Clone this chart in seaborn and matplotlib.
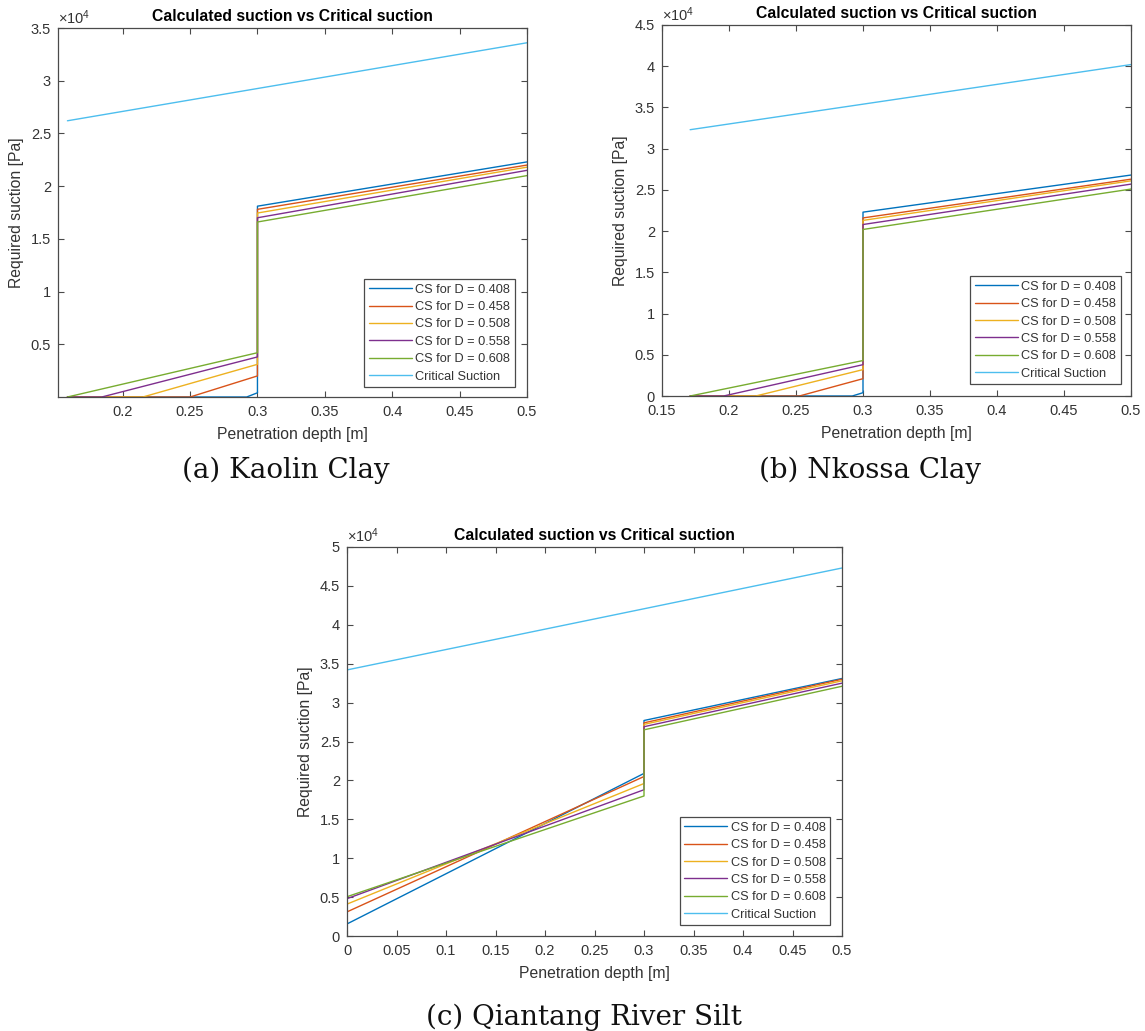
import matplotlib
matplotlib.use("Agg")
import matplotlib.pyplot as plt
import seaborn as sns
import pandas as pd
from matplotlib.ticker import FuncFormatter, FixedLocator

# ---------------- data (suction in units of 1e4 Pa) ----------------
SERIES = ["CS for D = 0.408", "CS for D = 0.458", "CS for D = 0.508",
          "CS for D = 0.558", "CS for D = 0.608", "Critical Suction"]
COLORS = ["#0072BD", "#D95319", "#EDB120", "#7E2F8E", "#77AC30", "#4DBEEE"]

# (a) Kaolin Clay
a_depth = [
    [0.159, 0.292, 0.3, 0.3, 0.5],
    [0.159, 0.250, 0.3, 0.3, 0.5],
    [0.159, 0.215, 0.3, 0.3, 0.5],
    [0.159, 0.1845, 0.3, 0.3, 0.5],
    [0.159, 0.3, 0.3, 0.5],
    [0.159, 0.5],
]
a_suction = [
    [0, 0, 0.04, 1.81, 2.23],
    [0, 0, 0.20, 1.78, 2.20],
    [0, 0, 0.31, 1.745, 2.18],
    [0, 0, 0.38, 1.70, 2.15],
    [0, 0.42, 1.66, 2.10],
    [2.62, 3.36],
]

# (b) Nkossa Clay
b_depth = [
    [0.171, 0.292, 0.3, 0.3, 0.5],
    [0.171, 0.2525, 0.3, 0.3, 0.5],
    [0.171, 0.220, 0.3, 0.3, 0.5],
    [0.171, 0.196, 0.3, 0.3, 0.5],
    [0.171, 0.3, 0.3, 0.5],
    [0.171, 0.5],
]
b_suction = [
    [0, 0, 0.04, 2.23, 2.68],
    [0, 0, 0.21, 2.16, 2.63],
    [0, 0, 0.32, 2.13, 2.61],
    [0, 0, 0.38, 2.08, 2.57],
    [0, 0.43, 2.02, 2.51],
    [3.23, 4.02],
]

# (c) Qiantang River Silt
c_depth = [
    [0, 0.3, 0.3, 0.5],
    [0, 0.3, 0.3, 0.5],
    [0, 0.3, 0.3, 0.5],
    [0, 0.3, 0.3, 0.5],
    [0, 0.3, 0.3, 0.5],
    [0, 0.5],
]
c_suction = [
    [0.155, 2.09, 2.77, 3.31],
    [0.31, 2.05, 2.74, 3.30],
    [0.41, 1.96, 2.72, 3.28],
    [0.48, 1.88, 2.69, 3.25],
    [0.505, 1.80, 2.65, 3.21],
    [3.42, 4.73],
]

a_xticks = [0.2, 0.25, 0.3, 0.35, 0.4, 0.45, 0.5]
a_yticks = [0.5, 1, 1.5, 2, 2.5, 3, 3.5]
b_xticks = [0.15, 0.2, 0.25, 0.3, 0.35, 0.4, 0.45, 0.5]
b_yticks = [0, 0.5, 1, 1.5, 2, 2.5, 3, 3.5, 4, 4.5]
c_xticks = [0, 0.05, 0.1, 0.15, 0.2, 0.25, 0.3, 0.35, 0.4, 0.45, 0.5]
c_yticks = [0, 0.5, 1, 1.5, 2, 2.5, 3, 3.5, 4, 4.5, 5]

CAPTIONS = ["(a) Kaolin Clay", "(b) Nkossa Clay", "(c) Qiantang River Silt"]
TITLE = "Calculated suction vs Critical suction"
XLABEL = "Penetration depth [m]"
YLABEL = "Required suction [Pa]"

# ---------------- style ----------------
sns.set_style("ticks")
plt.rcParams["font.family"] = ["Liberation Sans", "DejaVu Sans"]
plt.rcParams["axes.edgecolor"] = "#4a4a4a"
plt.rcParams["axes.linewidth"] = 0.9
TXT = "#333333"

W, H = 1145, 1031
fig = plt.figure(figsize=(W / 100, H / 100), dpi=100)


def long_df(depths, suctions):
    rows = []
    for name, xs, ys in zip(SERIES, depths, suctions):
        for i, (x, y) in enumerate(zip(xs, ys)):
            rows.append({"depth": x, "suction": y, "series": name, "order": i})
    return pd.DataFrame(rows)


def make_panel(box, depths, suctions, xlim, ylim, xticks, yticks, leg_anchor):
    l, t, r, b = box
    ax = fig.add_axes([l / W, 1 - b / H, (r - l) / W, (b - t) / H])
    df = long_df(depths, suctions)
    sns.lineplot(data=df, x="depth", y="suction", hue="series",
                 hue_order=SERIES, palette=COLORS, estimator=None,
                 sort=False, linewidth=1.0, ax=ax, legend=True)
    ax.set_xlim(*xlim)
    ax.set_ylim(*ylim)
    ax.xaxis.set_major_locator(FixedLocator(xticks))
    ax.yaxis.set_major_locator(FixedLocator(yticks))
    fmt = FuncFormatter(lambda v, p: "%g" % round(v, 4))
    ax.xaxis.set_major_formatter(fmt)
    ax.yaxis.set_major_formatter(fmt)
    for s in ax.spines.values():
        s.set_visible(True)
    ax.tick_params(direction="in", top=True, right=True, length=4,
                   width=0.8, color="#4a4a4a", labelsize=10.5,
                   labelcolor=TXT)
    ax.tick_params(axis="x", pad=6)
    ax.tick_params(axis="y", pad=5)
    ax.set_title(TITLE, fontsize=11.3, fontweight="bold", color="black", pad=5)
    ax.set_xlabel(XLABEL, fontsize=11.3, color=TXT)
    ax.set_ylabel(YLABEL, fontsize=11.3, color=TXT)
    ax.xaxis.set_label_coords(0.5, -30 / (b - t))
    ax.yaxis.set_label_coords(-34 / (r - l), 0.5)
    ax.text(0.0, 1.004, r"$\mathregular{\times10^{4}}$", transform=ax.transAxes,
            ha="left", va="bottom", fontsize=10.5, color=TXT)
    handles, labels = ax.get_legend_handles_labels()
    leg = ax.legend(handles, labels, loc="lower right", bbox_to_anchor=leg_anchor,
                    borderaxespad=0, fontsize=9.2, frameon=True, fancybox=False,
                    edgecolor="#4a4a4a", framealpha=1, handlelength=3.4,
                    handletextpad=0.25, labelspacing=0.42, borderpad=0.35)
    leg.get_frame().set_linewidth(0.9)
    for txt in leg.get_texts():
        txt.set_color(TXT)
    return ax


make_panel((58, 28, 527, 397), a_depth, a_suction, (0.152, 0.5), (0, 3.5),
           a_xticks, a_yticks, (0.974, 0.027))
make_panel((662, 25, 1131, 396), b_depth, b_suction, (0.15, 0.5), (0, 4.5),
           b_xticks, b_yticks, (0.978, 0.032))
make_panel((347, 547, 842, 936), c_depth, c_suction, (0, 0.5), (0, 5),
           c_xticks, c_yticks, (0.976, 0.028))

cap_pos = [(286, 470), (870, 470), (584, 1017)]
for text, (cx, cy) in zip(CAPTIONS, cap_pos):
    fig.text(cx / W, 1 - cy / H, text, ha="center", va="center",
             fontsize=20, family="DejaVu Serif", color="#111111")

fig.savefig("out.png", dpi=100, facecolor="white")
